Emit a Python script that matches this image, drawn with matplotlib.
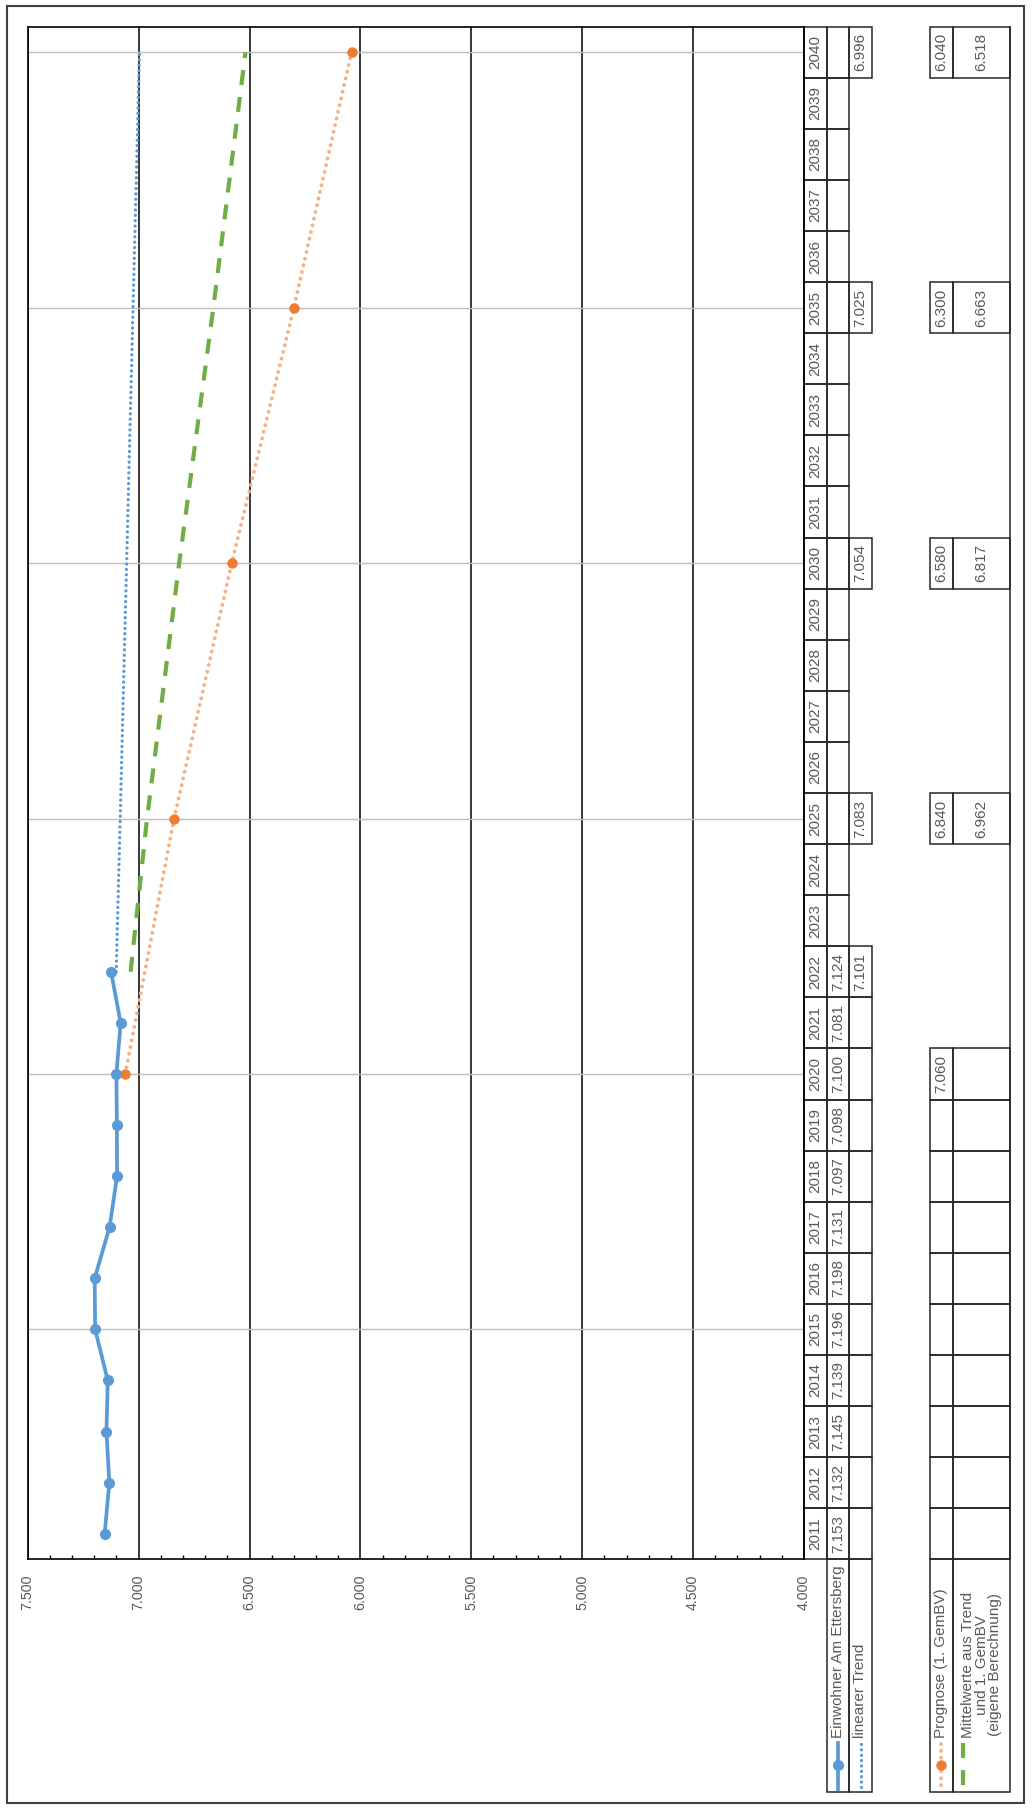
import matplotlib
matplotlib.use("Agg")
import matplotlib.pyplot as plt
import matplotlib.transforms as mtransforms
from matplotlib.ticker import MultipleLocator, FuncFormatter
from matplotlib.patches import Rectangle

plt.rcParams["font.family"] = ["Liberation Sans", "DejaVu Sans"]

# Einwohnerzahlen und Prognosen
years = list(range(2011, 2041))
einw_years = list(range(2011, 2023))
einwohner = [7153, 7132, 7145, 7139, 7196, 7198, 7131, 7097, 7098, 7100, 7081, 7124]
trend_years = [2022, 2025, 2030, 2035, 2040]
trend = [7101, 7083, 7054, 7025, 6996]
prog_years = [2020, 2025, 2030, 2035, 2040]
prognose = [7060, 6840, 6580, 6300, 6040]
mittel_years = [2022, 2025, 2030, 2035, 2040]
mittel = [7036, 6962, 6817, 6663, 6518]
mittel_first_shown = 2025

lbl_einw = "Einwohner Am Ettersberg"
lbl_trend = "linearer Trend"
lbl_prog = "Prognose (1. GemBV)"
lbl_mittel = "Mittelwerte aus Trend\nund 1. GemBV\n(eigene Berechnung)"

C_BLUE = "#5B9BD5"
C_ORANGE = "#ED7D31"
C_ORANGE_LT = "#F4B183"
C_GREEN = "#70AD47"
C_TEXT = "#595959"
C_LINE = "#262626"
FS_AX = 10.3
FS = 11.0


def fmt(v):
    return f"{int(round(v)):,}".replace(",", ".")


W, H = 1032, 1809
fig = plt.figure(figsize=(W / 100, H / 100), dpi=100)

# Plotbereich (Pixel von oben links)
pl, pr, pt, pb = 27.7, 804.0, 26.7, 1559.3
tb = fig.add_axes([0, 0, 1, 1], zorder=0)
tb.set_xlim(0, W)
tb.set_ylim(H, 0)
tb.axis("off")

ax = fig.add_axes([pl / W, 1 - pb / H, (pr - pl) / W, (pb - pt) / H], zorder=1)
ax.set_facecolor("none")
ax.set_xlim(7500, 4000)
ax.set_ylim(2010.5, 2040.5)
ax.xaxis.set_major_locator(MultipleLocator(500))
ax.xaxis.set_minor_locator(MultipleLocator(100))
ax.xaxis.set_major_formatter(FuncFormatter(lambda v, _: fmt(v)))
ax.set_yticks(list(range(2015, 2041, 5)))
ax.set_yticklabels([])
ax.tick_params(axis="y", length=0)
ax.tick_params(axis="x", which="major", direction="in", length=0, pad=11,
               labelrotation=90, labelsize=FS_AX, labelcolor=C_TEXT)
ax.tick_params(axis="x", which="minor", direction="in", length=3, width=1,
               color="black")
ax.grid(axis="x", which="major", color="black", lw=1.1)
ax.grid(axis="y", which="major", color="#BFBFBF", lw=1.0)
ax.set_axisbelow(True)
for s in ax.spines.values():
    s.set_color("black")
    s.set_linewidth(1.2)

# Linien
ax.plot(trend, trend_years, color=C_BLUE, lw=2.4, ls=(0, (0.01, 1.6)),
        dash_capstyle="round", zorder=3)
ax.plot(mittel, mittel_years, color=C_GREEN, lw=3.0, ls=(0, (3.6, 2.9)),
        zorder=3)
ax.plot(prognose, prog_years, color=C_ORANGE_LT, lw=2.8, ls=(0, (0.01, 1.75)),
        dash_capstyle="round", zorder=3)
ax.plot(prognose, prog_years, ls="none", marker="o", ms=6.5, color=C_ORANGE,
        zorder=4)
ax.plot(einwohner, einw_years, color=C_BLUE, lw=2.7, marker="o", ms=7,
        zorder=5)

# Datentabelle rechts neben dem Diagramm
tr = mtransforms.blended_transform_factory(tb.transData, ax.transData)
c_year = (804.0, 826.7)
c_einw = (826.7, 849.3)
c_trend = (849.3, 871.7)
c_prog = (930.0, 952.7)
c_mit = (952.7, 1010.0)


def box(col, y0, y1, transform):
    tb.add_patch(Rectangle((col[0], y0), col[1] - col[0], y1 - y0,
                           transform=transform, fill=False, ec=C_LINE, lw=1.1,
                           clip_on=False))


def cell_text(col, yr, s):
    tb.text((col[0] + col[1]) / 2, yr, s, transform=tr, rotation=90,
            ha="center", va="center", fontsize=FS, color=C_TEXT)


for y in years:
    box(c_year, y - 0.5, y + 0.5, tr)
    box(c_einw, y - 0.5, y + 0.5, tr)
    cell_text(c_year, y, str(y))
    if y <= einw_years[-1] or y in trend_years:
        box(c_trend, y - 0.5, y + 0.5, tr)
    if y <= prog_years[0] or y in prog_years:
        box(c_prog, y - 0.5, y + 0.5, tr)
        box(c_mit, y - 0.5, y + 0.5, tr)

for y, v in zip(einw_years, einwohner):
    cell_text(c_einw, y, fmt(v))
for y, v in zip(trend_years, trend):
    cell_text(c_trend, y, fmt(v))
for y, v in zip(prog_years, prognose):
    cell_text(c_prog, y, fmt(v))
for y, v in zip(mittel_years, mittel):
    if y >= mittel_first_shown:
        cell_text(c_mit, y, fmt(v))
tb.plot([c_mit[1], c_mit[1]], [2010.5, 2040.5], transform=tr, color=C_LINE,
        lw=1.1, clip_on=False)

# Legendenzellen unter der Tabelle
hb = 1791.7
for col in (c_einw, c_trend, c_prog, c_mit):
    box(col, pb, hb, tb.transData)

txt_b = 1738
for col, s in ((c_einw, lbl_einw), (c_trend, lbl_trend), (c_prog, lbl_prog)):
    tb.text((col[0] + col[1]) / 2, txt_b, s, rotation=90, ha="center",
            va="bottom", fontsize=FS, color=C_TEXT)
tb.text(981.5, txt_b, lbl_mittel, rotation=90, ha="center", va="bottom",
        multialignment="center", fontsize=FS, color=C_TEXT, linespacing=1.0)

kx = (c_einw[0] + c_einw[1]) / 2
tb.plot([kx, kx], [1743, 1789], color=C_BLUE, lw=2.7)
tb.plot([kx], [1765], marker="o", ms=7, color=C_BLUE)
kx = (c_trend[0] + c_trend[1]) / 2
tb.plot([kx, kx], [1744, 1789], color=C_BLUE, lw=2.4, ls=(0, (0.01, 1.6)),
        dash_capstyle="round")
kx = (c_prog[0] + c_prog[1]) / 2
tb.plot([kx, kx], [1744, 1789], color=C_ORANGE_LT, lw=2.8,
        ls=(0, (0.01, 1.75)), dash_capstyle="round")
tb.plot([kx], [1765], marker="o", ms=6.5, color=C_ORANGE)
tb.plot([963, 963], [1743, 1789], color=C_GREEN, lw=3.0, ls=(0, (3.6, 2.9)))

# Rahmen um das ganze Diagramm
tb.add_patch(Rectangle((7, 6), 1017, 1797, fill=False, ec="#404040", lw=1.5))

fig.savefig("out.png", dpi=100, facecolor="white")
